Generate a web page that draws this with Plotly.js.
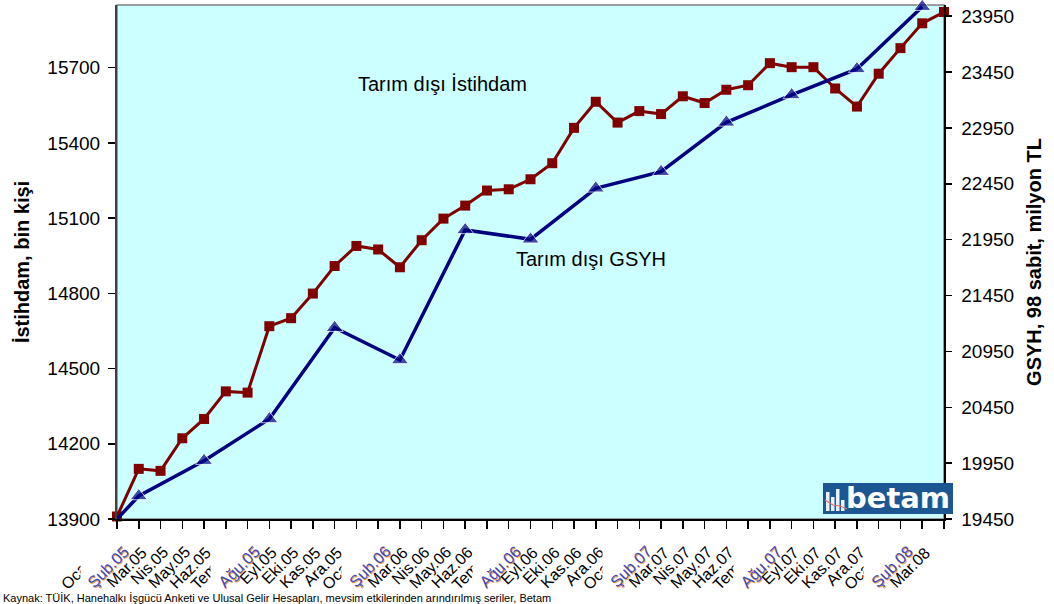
<!DOCTYPE html>
<html><head><meta charset="utf-8">
<script src="https://cdn.plot.ly/plotly-3.0.1.min.js"></script>
<style>html,body{margin:0;padding:0;background:#fff;}#chart{width:1054px;height:604px;}</style>
</head><body><div id="chart"></div>
<script>
// Categories (x tick labels)
const categories = [
  'Oca.05','Şub.05','Mar.05','Nis.05','May.05','Haz.05','Tem.05','Ağu.05','Eyl.05','Eki.05','Kas.05','Ara.05',
  'Oca.06','Şub.06','Mar.06','Nis.06','May.06','Haz.06','Tem.06','Ağu.06','Eyl.06','Eki.06','Kas.06','Ara.06',
  'Oca.07','Şub.07','Mar.07','Nis.07','May.07','Haz.07','Tem.07','Ağu.07','Eyl.07','Eki.07','Kas.07','Ara.07',
  'Oca.08','Şub.08','Mar.08'
];
// Non-agricultural employment, thousand persons (left axis)
const istihdam = [
  13910, 14100, 14092, 14222, 14299, 14409, 14404, 14669, 14701, 14799, 14909, 14989,
  14975, 14904, 15012, 15098, 15150, 15210, 15215, 15255, 15319, 15460, 15564, 15481,
  15527, 15515, 15586, 15559, 15612, 15630, 15718, 15702, 15702, 15617, 15545, 15676,
  15778, 15877, 15922
];
// Non-agricultural GDP, 1998 prices, million TL (right axis), quarterly
const gsyh = [
  19450, 19656, null, null, 19972, null, null, 20345, null, null, 21162, null,
  null, 20873, null, null, 22037, null, null, 21953, null, null, 22410, null,
  null, 22558, null, null, 23000, null, null, 23245, null, null, 23478, null,
  null, 24035, null
];
// Labels drawn highlighted (pasted-in labels)
const highlighted = ['Şub.05','Ağu.05','Şub.06','Ağu.06','Şub.07','Ağu.07','Şub.08'];

const FONT = 'Liberation Sans, Arial, sans-serif';
const PT = 5, PB = 519, PL = 117, PR = 944;
const py = p => (PB - p) / (PB - PT);
const px = p => (p - PL) / (PR - PL);

const traceEmp = {
  x: categories, y: istihdam, yaxis: 'y', type: 'scatter', mode: 'lines+markers',
  line: {color: '#800000', width: 3},
  marker: {symbol: 'square', size: 10, color: '#800000'},
  cliponaxis: false, hoverinfo: 'skip', showlegend: false
};
const traceGdp = {
  x: categories, y: gsyh, yaxis: 'y2', type: 'scatter', mode: 'lines+markers',
  connectgaps: true,
  line: {color: '#000080', width: 3.5},
  marker: {symbol: 'triangle-up', size: gsyh.map((v, i) => i === 0 ? 0 : 15), color: '#000080'},
  cliponaxis: false, hoverinfo: 'skip', showlegend: false
};

const annotations = [];
categories.forEach(c => {
  if (highlighted.includes(c)) {
    annotations.push({x: c, xref: 'x', y: py(532), yref: 'paper', xanchor: 'right', yanchor: 'top',
      xshift: 3, text: ' ', width: 58, height: 64, bgcolor: '#ffffff', showarrow: false});
    annotations.push({x: c, xref: 'x', y: py(540), yref: 'paper', xanchor: 'right', yanchor: 'top',
      xshift: -2, yshift: -1, textangle: -45, text: c, showarrow: false,
      font: {family: FONT, size: 16, color: '#f0a050'}});
    annotations.push({x: c, xref: 'x', y: py(540), yref: 'paper', xanchor: 'right', yanchor: 'top',
      xshift: -3, textangle: -45, text: c, showarrow: false,
      font: {family: FONT, size: 16, color: '#4048b8'}});
  } else {
    annotations.push({x: c, xref: 'x', y: py(541), yref: 'paper', xanchor: 'right', yanchor: 'top',
      xshift: -8, textangle: -45, text: c, showarrow: false,
      font: {family: FONT, size: 16, color: '#000'}});
  }
});
annotations.push({x: px(442), xref: 'paper', y: py(84), yref: 'paper', xanchor: 'center', yanchor: 'middle',
  text: 'Tarım dışı İstihdam', showarrow: false, font: {family: FONT, size: 20, color: '#000'}});
annotations.push({x: px(591), xref: 'paper', y: py(259), yref: 'paper', xanchor: 'center', yanchor: 'middle',
  text: 'Tarım dışı GSYH', showarrow: false, font: {family: FONT, size: 20, color: '#000'}});
annotations.push({x: px(2), xref: 'paper', y: py(591), yref: 'paper', xanchor: 'left', yanchor: 'top',
  text: 'Kaynak: TÜİK, Hanehalkı İşgücü Anketi ve Ulusal Gelir Hesapları, mevsim etkilerinden arındırılmış seriler, Betam',
  showarrow: false, font: {family: FONT, size: 11, color: '#000'}, borderpad: 0});
// logo text
annotations.push({x: px(898), xref: 'paper', y: py(498), yref: 'paper', xanchor: 'center', yanchor: 'middle',
  text: '<b>betam</b>', showarrow: false,
  font: {family: 'DejaVu Sans, Verdana, sans-serif', size: 29, color: '#ffffff'}});

const shapes = [
  {type: 'rect', xref: 'paper', yref: 'paper', x0: 0, x1: 1, y0: 0, y1: 1,
   line: {color: '#808080', width: 1.5}, layer: 'below'},
  {type: 'rect', xref: 'paper', yref: 'paper', x0: px(823), x1: px(953), y0: py(514), y1: py(483),
   fillcolor: '#1c5792', line: {width: 0}, layer: 'above'}
];
// logo icon bars
[[826, 492], [831, 497], [836, 489], [841, 500]].forEach(([bx, top]) => {
  shapes.push({type: 'rect', xref: 'paper', yref: 'paper', x0: px(bx), x1: px(bx + 3.5), y0: py(511), y1: py(top),
    fillcolor: '#e8f0f8', line: {width: 0}, layer: 'above'});
});
shapes.push({type: 'path', xref: 'paper', yref: 'paper', layer: 'above',
  path: `M ${px(825)} ${py(500)} L ${px(833)} ${py(505)} L ${px(840)} ${py(506)} L ${px(847)} ${py(509)}`,
  line: {color: '#e07070', width: 1.2}});

const layout = {
  width: 1054, height: 604,
  margin: {l: PL, r: 1054 - PR, t: PT, b: 604 - PB},
  paper_bgcolor: '#ffffff', plot_bgcolor: '#ccffff',
  font: {family: FONT, color: '#000'},
  showlegend: false,
  xaxis: {type: 'category', range: [0, 38], showticklabels: false, ticks: 'outside', ticklen: 8,
    tickwidth: 1.5, tickcolor: '#000', showline: true, linecolor: '#000', linewidth: 1.5,
    showgrid: false, zeroline: false, fixedrange: true},
  yaxis: {range: [13900, 15950], tick0: 13900, dtick: 300, tickformat: 'd', ticks: 'outside', ticklen: 7,
    tickwidth: 1.5, tickcolor: '#000', showline: true, linecolor: '#404040', linewidth: 2,
    showgrid: false, zeroline: false, ticklabelstandoff: 4,
    tickfont: {family: FONT, size: 19, color: '#000'},
    title: {text: '<b>İstihdam, bin kişi</b>', font: {family: FONT, size: 20, color: '#000'}, standoff: 12}},
  yaxis2: {overlaying: 'y', side: 'right', range: [19450, 24050], tick0: 19450, dtick: 500, tickformat: 'd',
    ticks: 'outside', ticklen: 6, tickwidth: 1.5, tickcolor: '#000', showline: true, linecolor: '#000',
    linewidth: 1.5, showgrid: false, zeroline: false, ticklabelstandoff: 6,
    tickfont: {family: FONT, size: 19, color: '#000'},
    title: {text: '<b>GSYH, 98 sabit, milyon TL</b>', font: {family: FONT, size: 20, color: '#000'}, standoff: 14}},
  annotations: annotations,
  shapes: shapes
};

Plotly.newPlot('chart', [traceEmp, traceGdp], layout, {displayModeBar: false, staticPlot: true});
</script></body></html>
